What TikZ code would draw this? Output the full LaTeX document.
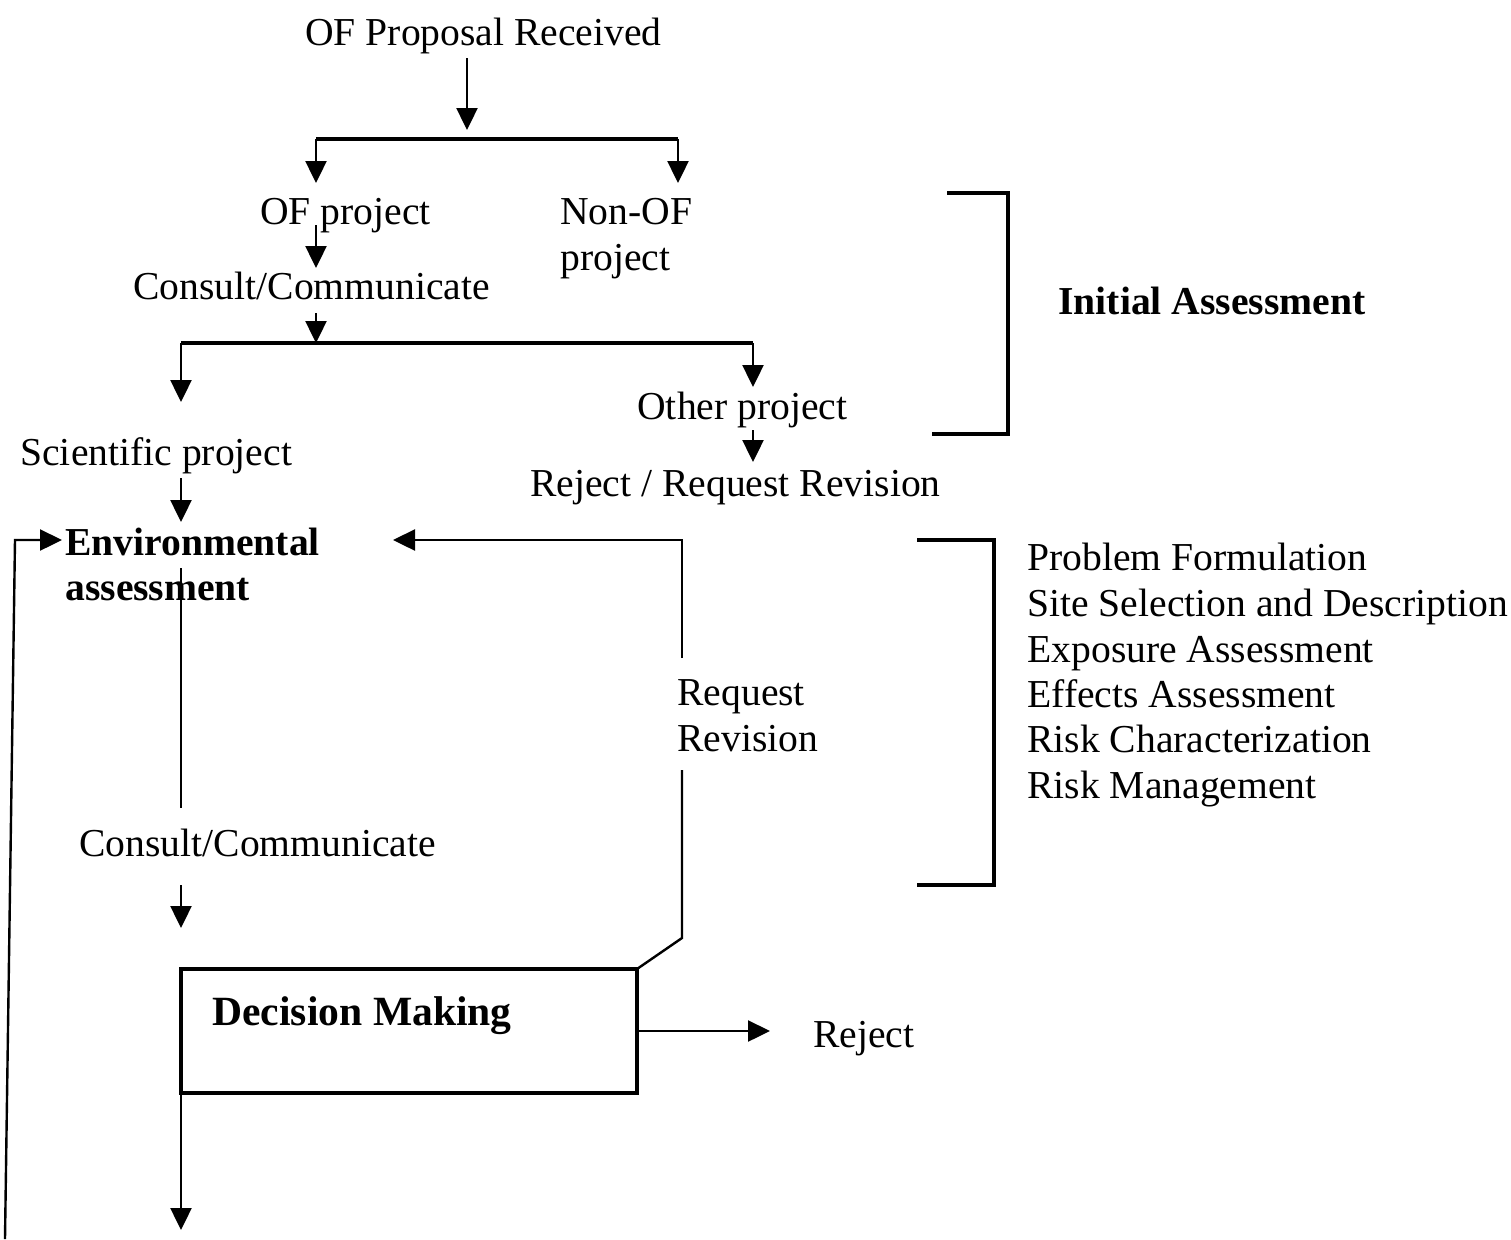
\documentclass[tikz,border=0pt]{standalone}
\usepackage{fontspec}
\setmainfont{Liberation Serif}
\usetikzlibrary{arrows.meta}
\begin{document}
\begin{tikzpicture}[x=0.5pt,y=-0.5pt,
  lbl/.style={anchor=base west,inner sep=0pt,font=\fontsize{19.8}{23}\selectfont},
  blbl/.style={anchor=base west,inner sep=0pt,font=\fontsize{19.8}{23}\selectfont\bfseries},
  arr/.style={line width=1.2pt,-{Triangle[width=10.5pt,length=11pt]}},
  thinline/.style={line width=1.2pt},
  thickline/.style={line width=2pt},
  box/.style={draw,line width=2pt,inner sep=0pt,outer sep=0pt,anchor=north west,minimum width=228pt,minimum height=62pt}
]
\useasboundingbox (0,0) rectangle (1511,1239);

% text nodes
\node[lbl] (prop) at (305,45) {OF Proposal Received};
\node[lbl] (ofp) at (260,224) {OF project};
\node[lbl] (nonof1) at (560,224) {Non-OF};
\node[lbl] (nonof2) at (560,270) {project};
\node[lbl] (cc1) at (133,299) {Consult/Communicate};
\node[lbl] (other) at (637,419) {Other project};
\node[lbl] (rrr) at (530,496) {Reject / Request Revision};
\node[lbl] (sci) at (20,465) {Scientific project};
\node[blbl] (env1) at (65,555) {Environmental};
\node[blbl] (env2) at (65,600) {assessment};
\node[blbl] (init) at (1058,314) {Initial Assessment};
\node[lbl] (l1) at (1027,570) {Problem Formulation};
\node[lbl] (l2) at (1027,616) {Site Selection and Description};
\node[lbl] (l3) at (1027,662) {Exposure Assessment};
\node[lbl] (l4) at (1027,707) {Effects Assessment};
\node[lbl] (l5) at (1027,752) {Risk Characterization};
\node[lbl] (l6) at (1027,798) {Risk Management};
\node[lbl] (req1) at (677,705) {Request};
\node[lbl] (req2) at (677,751) {Revision};
\node[lbl] (cc2) at (79,856) {Consult/Communicate};
\node[box] (dm) at (181,969) {};
\node[blbl,font=\fontsize{20.8}{24}\selectfont\bfseries] (dmt) at (212,1025) {Decision Making};
\node[lbl] (rej) at (813,1047) {Reject};

% coordinates
\coordinate (s0) at (467,58);
\coordinate (b0) at (467,130);
\coordinate (b1l) at (316,139);
\coordinate (b1r) at (678,139);
\coordinate (t1l) at (316,183);
\coordinate (t1r) at (678,183);
\coordinate (s2) at (316,225);
\coordinate (t2) at (316,268);
\coordinate (s3) at (316,313);
\coordinate (b2m) at (316,343);
\coordinate (b2l) at (181,343);
\coordinate (b2r) at (753,343);
\coordinate (t3l) at (181,402);
\coordinate (t3r) at (753,387);
\coordinate (s4) at (753,430);
\coordinate (t4) at (753,462);
\coordinate (s5) at (181,478);
\coordinate (t5) at (181,522);
\coordinate (e1) at (181,568);
\coordinate (e2) at (181,808);
\coordinate (s6) at (181,885);
\coordinate (t6) at (181,928);
\coordinate (t7) at (770,1031);
\coordinate (t8) at (181,1230);
\coordinate (r1) at (682,938);
\coordinate (r2) at (682,770);
\coordinate (r3) at (682,658);
\coordinate (r4) at (682,540);
\coordinate (t9) at (393,540);
\coordinate (f0) at (5,1239);
\coordinate (f1) at (15,540);
\coordinate (t10) at (62,540);

% connectors
\draw[arr] (s0) -- (b0);
\draw[thickline] (b1l) -- (b1r);
\draw[arr] (b1l) -- (t1l);
\draw[arr] (b1r) -- (t1r);
\draw[arr] (s2) -- (t2);
\draw[arr] (s3) -- (b2m);
\draw[thickline] (b2l) -- (b2r);
\draw[arr] (b2l) -- (t3l);
\draw[arr] (b2r) -- (t3r);
\draw[arr] (s4) -- (t4);
\draw[arr] (s5) -- (t5);
\draw[thinline] (e1) -- (e2);
\draw[arr] (s6) -- (t6);
\draw[arr] (dm.east) -- (t7);
\draw[arr] (dm.south west) -- (t8);
\draw[thinline] (dm.north east) -- (r1) -- (r2);
\draw[arr] (r3) -- (r4) -- (t9);
\draw[arr] (f0) -- (f1) -- (t10);

% brackets
\draw[thickline] (947,193) -- (1008,193) -- (1008,434) -- (932,434);
\draw[thickline] (917,540) -- (994,540) -- (994,885) -- (917,885);
\end{tikzpicture}
\end{document}
